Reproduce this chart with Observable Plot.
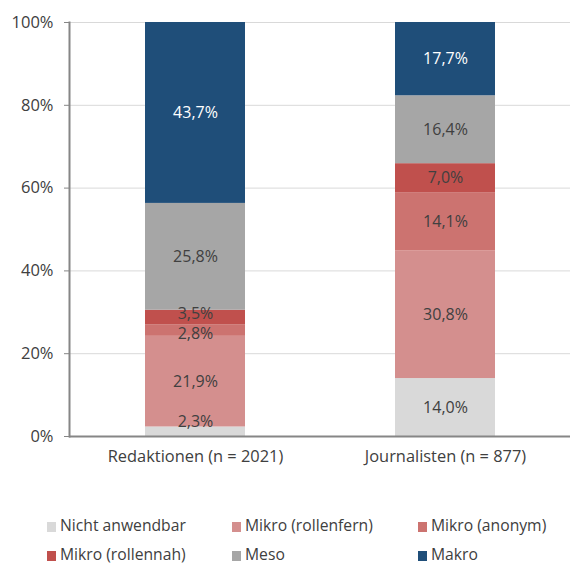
<!DOCTYPE html>
<html>
<head>
<meta charset="utf-8">
<script src="https://cdn.jsdelivr.net/npm/d3@7"></script>
<script src="https://cdn.jsdelivr.net/npm/@observablehq/plot@0.6"></script>
<style>
  html, body { margin: 0; padding: 0; background: #fff; }
  #wrap { position: relative; width: 570px; height: 564px; overflow: hidden; font-family: "Open Sans", sans-serif; color: #404040; }
  #legend .item { position: absolute; font-size: 15.7px; line-height: 20px; white-space: nowrap; }
  #legend .sw { display: inline-block; width: 9px; height: 10px; margin-right: 4px; vertical-align: -1px; }
</style>
</head>
<body>
<div id="wrap"><div id="chart"></div><div id="legend"></div></div>
<script>
const categories = ["Redaktionen (n = 2021)", "Journalisten (n = 877)"];
const series = ["Nicht anwendbar", "Mikro (rollenfern)", "Mikro (anonym)", "Mikro (rollennah)", "Meso", "Makro"];
const colors = ["#d9d9d9", "#d48f8e", "#cc7370", "#c0504d", "#a6a6a6", "#1f4e79"];
const redaktionen = [2.3, 21.9, 2.8, 3.5, 25.8, 43.7];
const journalisten = [14.0, 30.8, 14.1, 7.0, 16.4, 17.7];
const yTicks = [0, 20, 40, 60, 80, 100];

// label placement: segment midpoints, nudged apart when too close
const minGap = 4.9;
const data = [];
[redaktionen, journalisten].forEach((vals, ci) => {
  let acc = 0, prev = -Infinity;
  vals.forEach((v, si) => {
    let mid = Math.max(acc + v / 2, 3.6);
    if (mid - prev < minGap) {
      const shift = (minGap - (mid - prev)) / 2;
      if (si > 0) data[data.length - 1].mid -= shift;
      mid = prev - shift + minGap;
    }
    prev = mid;
    data.push({cat: categories[ci], series: series[si], value: v, mid});
    acc += v;
  });
});
const fmt = v => v.toFixed(1).replace(".", ",") + "%";

const chart = Plot.plot({
  width: 570,
  height: 490,
  marginLeft: 69,
  marginRight: 0,
  marginTop: 22,
  marginBottom: 54,
  style: {fontFamily: "'Open Sans', sans-serif", fontSize: "16px", color: "#404040", background: "#fff"},
  x: {domain: categories, paddingInner: 0.6, paddingOuter: 0.3, label: null},
  y: {domain: [0, 100], label: null},
  color: {domain: series, range: colors},
  marks: [
    Plot.gridY(yTicks.slice(1), {stroke: "#d9d9d9", strokeOpacity: 1, strokeWidth: 1}),
    Plot.barY(data, {x: "cat", y: "value", fill: "series", order: series}),
    Plot.text(data, {x: "cat", y: "mid", text: d => fmt(d.value),
      fill: d => d.series === "Makro" ? "#ffffff" : "#404040", fontSize: 16}),
    Plot.axisY({ticks: yTicks, tickFormat: d => d + "%", tickSize: 5, tickPadding: 11,
      stroke: "#868686", fill: "#404040", fontSize: 16.5}),
    Plot.axisX({tickSize: 0, tickPadding: 14, fill: "#404040", fontSize: 16.4}),
    Plot.frame({anchor: "left", stroke: "#868686", strokeWidth: 2}),
    Plot.ruleY([0], {stroke: "#868686", strokeWidth: 2})
  ]
});
document.getElementById("chart").appendChild(chart);

const legend = document.getElementById("legend");
const colX = [47, 232, 418];
const rowTop = [515, 544];
series.forEach((s, i) => {
  const el = document.createElement("div");
  el.className = "item";
  el.style.left = colX[i % 3] + "px";
  el.style.top = rowTop[Math.floor(i / 3)] + "px";
  el.innerHTML = `<span class="sw" style="background:${colors[i]}"></span>${s}`;
  legend.appendChild(el);
});
</script>
</body>
</html>
